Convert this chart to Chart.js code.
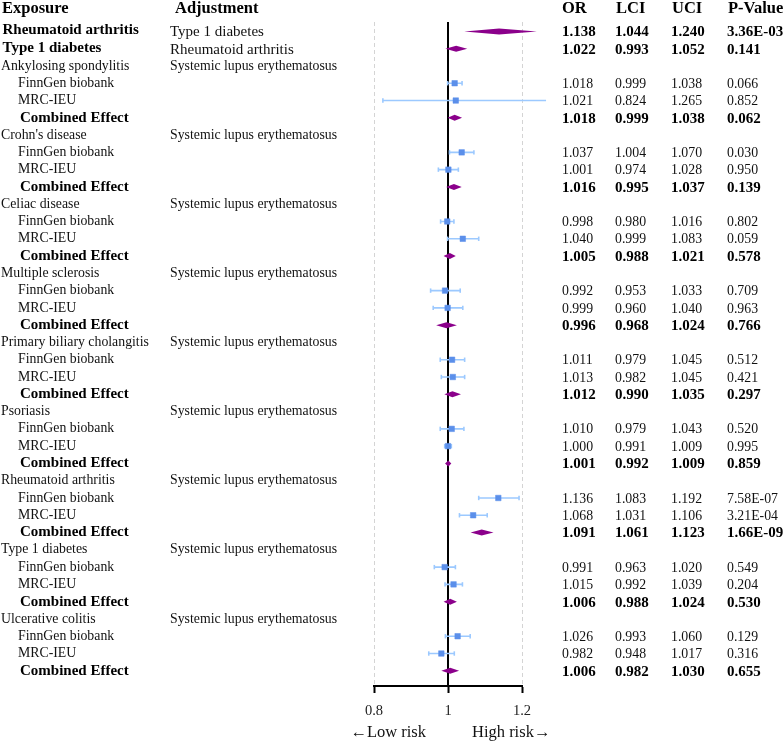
<!DOCTYPE html>
<html>
<head>
<meta charset="utf-8">
<script src="https://cdn.jsdelivr.net/npm/chart.js@4.4.1/dist/chart.umd.min.js"></script>
<style>
html,body{margin:0;padding:0;background:#fff;}
#wrap{width:784px;height:744px;position:relative;}
</style>
</head>
<body>
<div id="wrap"><canvas id="c" width="784" height="744"></canvas></div>
<script>
// ---- data ----
const topExposures = ["Rheumatoid arthritis", "Type 1 diabetes"];
const topAdjustments = ["Type 1 diabetes", "Rheumatoid arthritis"];
const topOR  = [1.138, 1.022];
const topLCI = [1.044, 0.993];
const topUCI = [1.240, 1.052];
const topP   = ["3.36E-03", "0.141"];

const exposures = ["Ankylosing spondylitis", "Crohn's disease", "Celiac disease", "Multiple sclerosis",
  "Primary biliary cholangitis", "Psoriasis", "Rheumatoid arthritis", "Type 1 diabetes", "Ulcerative colitis"];
const adjustment = "Systemic lupus erythematosus";
const studies = ["FinnGen biobank", "MRC-IEU"];
const combinedLabel = "Combined Effect";

const finnOR  = [1.018, 1.037, 0.998, 0.992, 1.011, 1.010, 1.136, 0.991, 1.026];
const finnLCI = [0.999, 1.004, 0.980, 0.953, 0.979, 0.979, 1.083, 0.963, 0.993];
const finnUCI = [1.038, 1.070, 1.016, 1.033, 1.045, 1.043, 1.192, 1.020, 1.060];
const finnP   = ["0.066", "0.030", "0.802", "0.709", "0.512", "0.520", "7.58E-07", "0.549", "0.129"];

const mrcOR  = [1.021, 1.001, 1.040, 0.999, 1.013, 1.000, 1.068, 1.015, 0.982];
const mrcLCI = [0.824, 0.974, 0.999, 0.960, 0.982, 0.991, 1.031, 0.992, 0.948];
const mrcUCI = [1.265, 1.028, 1.083, 1.040, 1.045, 1.009, 1.106, 1.039, 1.017];
const mrcP   = ["0.852", "0.950", "0.059", "0.963", "0.421", "0.995", "3.21E-04", "0.204", "0.316"];

const combOR  = [1.018, 1.016, 1.005, 0.996, 1.012, 1.001, 1.091, 1.006, 1.006];
const combLCI = [0.999, 0.995, 0.988, 0.968, 0.990, 0.992, 1.061, 0.988, 0.982];
const combUCI = [1.038, 1.037, 1.021, 1.024, 1.035, 1.009, 1.123, 1.024, 1.030];
const combP   = ["0.062", "0.139", "0.578", "0.766", "0.297", "0.859", "1.66E-09", "0.530", "0.655"];

const headers = ["Exposure", "Adjustment", "OR", "LCI", "UCI", "P-Value"];
const xTicks = [0.8, 1, 1.2];
const xTickLabels = ["0.8", "1", "1.2"];
const riskLabels = ["\u2190Low risk", "High risk\u2192"];

// ---- build row table ----
const rows = [];
topExposures.forEach((e, i) => rows.push({r: i + 1, label: e, kind: 'top', adj: topAdjustments[i],
  or: topOR[i], lci: topLCI[i], uci: topUCI[i], p: topP[i]}));
exposures.forEach((e, g) => {
  const base = 3 + 4 * g;
  rows.push({r: base, label: e, kind: 'title', adj: adjustment});
  rows.push({r: base + 1, label: studies[0], kind: 'study', or: finnOR[g], lci: finnLCI[g], uci: finnUCI[g], p: finnP[g]});
  rows.push({r: base + 2, label: studies[1], kind: 'study', or: mrcOR[g], lci: mrcLCI[g], uci: mrcUCI[g], p: mrcP[g]});
  rows.push({r: base + 3, label: combinedLabel, kind: 'comb', or: combOR[g], lci: combLCI[g], uci: combUCI[g], p: combP[g]});
});
const nRows = 2 + 4 * exposures.length;

const studyRows = rows.filter(d => d.kind === 'study');
const diamondRows = rows.filter(d => d.kind === 'top' || d.kind === 'comb');

const squarePts = studyRows.map(d => ({x: d.or, y: d.r}));
const errPts = [];
studyRows.forEach(d => { errPts.push({x: d.lci, y: d.r}); errPts.push({x: d.uci, y: d.r}); errPts.push({x: d.uci, y: null}); });

const SERIF = "'Liberation Serif', 'Times New Roman', serif";
const DIAMOND = '#8B008B';
const SQUARE = '#5B8FEA';
const ERR = '#9CC9FF';

const forestPlugin = {
  id: 'forest',
  beforeDatasetsDraw(chart) {
    const {ctx, chartArea: a, scales: {x}} = chart;
    ctx.save();
    ctx.lineWidth = 1;
    ctx.strokeStyle = '#d4d4d4';
    ctx.setLineDash([4, 3]);
    [xTicks[0], xTicks[2]].forEach(v => {
      const px = Math.round(x.getPixelForValue(v)) + 0.5;
      ctx.beginPath(); ctx.moveTo(px, a.top); ctx.lineTo(px, a.bottom); ctx.stroke();
    });
    ctx.setLineDash([]);
    ctx.strokeStyle = '#000';
    ctx.lineWidth = 2;
    const p1 = x.getPixelForValue(1);
    ctx.beginPath(); ctx.moveTo(p1, a.top); ctx.lineTo(p1, a.bottom); ctx.stroke();
    ctx.restore();
  },
  afterDatasetsDraw(chart) {
    const {ctx, scales: {x, y}} = chart;
    ctx.save();
    ctx.fillStyle = DIAMOND;
    diamondRows.forEach(d => {
      const py = y.getPixelForValue(d.r);
      const h = 3;
      ctx.beginPath();
      ctx.moveTo(x.getPixelForValue(d.lci), py);
      ctx.lineTo(x.getPixelForValue(d.or), py - h);
      ctx.lineTo(x.getPixelForValue(d.uci), py);
      ctx.lineTo(x.getPixelForValue(d.or), py + h);
      ctx.closePath();
      ctx.fill();
    });
    ctx.restore();
  },
  afterDraw(chart) {
    const {ctx, scales: {x, y}} = chart;
    ctx.save();
    ctx.textBaseline = 'middle';
    ctx.textAlign = 'left';
    const colX = {exp: 2, adj: 170, or: 562, lci: 615, uci: 671, p: 727};
    // headers
    ctx.fillStyle = '#000';
    ctx.font = 'bold 16.5px ' + SERIF;
    const hy = 9;
    ctx.fillText(headers[0], 2, hy);
    ctx.fillText(headers[1], 175, hy);
    ctx.fillText(headers[2], colX.or, hy);
    ctx.fillText(headers[3], colX.lci + 1, hy);
    ctx.fillText(headers[4], colX.uci + 1, hy);
    ctx.fillText(headers[5], colX.p + 1, hy);
    rows.forEach(d => {
      const py = y.getPixelForValue(d.r);
      let bold = d.kind === 'top' || d.kind === 'comb';
      if (d.kind === 'top') {
        ctx.font = 'bold 15px ' + SERIF; ctx.fillStyle = '#000';
        ctx.fillText(d.label, 2.5, py - 1);
        ctx.font = '15px ' + SERIF; ctx.fillStyle = '#111';
        ctx.fillText(d.adj, 170, py + 1);
      } else if (d.kind === 'title') {
        ctx.font = '13.8px ' + SERIF; ctx.fillStyle = '#111';
        ctx.fillText(d.label, 1, py);
        ctx.fillText(d.adj, 170, py);
      } else if (d.kind === 'study') {
        ctx.font = '13.8px ' + SERIF; ctx.fillStyle = '#111';
        ctx.fillText(d.label, 18, py);
      } else {
        ctx.font = 'bold 15px ' + SERIF; ctx.fillStyle = '#000';
        ctx.fillText(d.label, 20, py);
      }
      if (d.or !== undefined) {
        ctx.font = (bold ? 'bold 15px ' : '13.8px ') + SERIF;
        ctx.fillStyle = bold ? '#000' : '#111';
        const vy = py + 1;
        ctx.fillText(d.or.toFixed(3), colX.or, vy);
        ctx.fillText(d.lci.toFixed(3), colX.lci, vy);
        ctx.fillText(d.uci.toFixed(3), colX.uci, vy);
        ctx.fillText(d.p, colX.p, vy);
      }
    });
    // risk labels
    ctx.font = '16.5px ' + SERIF; ctx.fillStyle = '#111';
    const p1 = x.getPixelForValue(1);
    ctx.textAlign = 'right';
    ctx.fillText(riskLabels[0], p1 - 22, 733);
    ctx.textAlign = 'left';
    ctx.fillText(riskLabels[1], p1 + 24, 733);
    ctx.restore();
  }
};

new Chart(document.getElementById('c'), {
  type: 'scatter',
  data: {
    datasets: [
      {
        label: 'CI',
        data: errPts,
        showLine: true,
        spanGaps: false,
        borderColor: ERR,
        borderWidth: 1.6,
        pointStyle: 'line',
        rotation: 90,
        pointRadius: 2.2,
        pointBorderColor: ERR,
        pointBorderWidth: 1.6,
        clip: false,
        order: 2
      },
      {
        label: 'OR',
        data: squarePts,
        pointStyle: 'rect',
        pointRadius: 3.9,
        backgroundColor: SQUARE,
        borderColor: SQUARE,
        pointBorderWidth: 0.5,
        clip: false,
        order: 1
      }
    ]
  },
  options: {
    responsive: false,
    animation: false,
    devicePixelRatio: 1,
    layout: {padding: {left: 374, right: 262, top: 22, bottom: 0}},
    plugins: {legend: {display: false}, tooltip: {enabled: false}},
    events: [],
    scales: {
      x: {
        type: 'linear',
        min: xTicks[0],
        max: xTicks[xTicks.length - 1],
        afterBuildTicks(scale) { scale.ticks = xTicks.map(v => ({value: v})); },
        afterFit(scale) { scale.height = 58; },
        ticks: {
          callback: (v) => xTickLabels[xTicks.indexOf(v)] ?? '',
          font: {family: SERIF, size: 14.5},
          color: '#222',
          padding: 9,
          maxRotation: 0
        },
        grid: {drawOnChartArea: false, drawTicks: true, tickLength: 7, tickColor: '#000', tickWidth: 2},
        border: {display: true, color: '#000', width: 2}
      },
      y: {
        type: 'linear',
        display: false,
        reverse: true,
        min: 0.456,
        max: nRows + 0.88
      }
    }
  },
  plugins: [forestPlugin]
});
</script>
</body>
</html>
